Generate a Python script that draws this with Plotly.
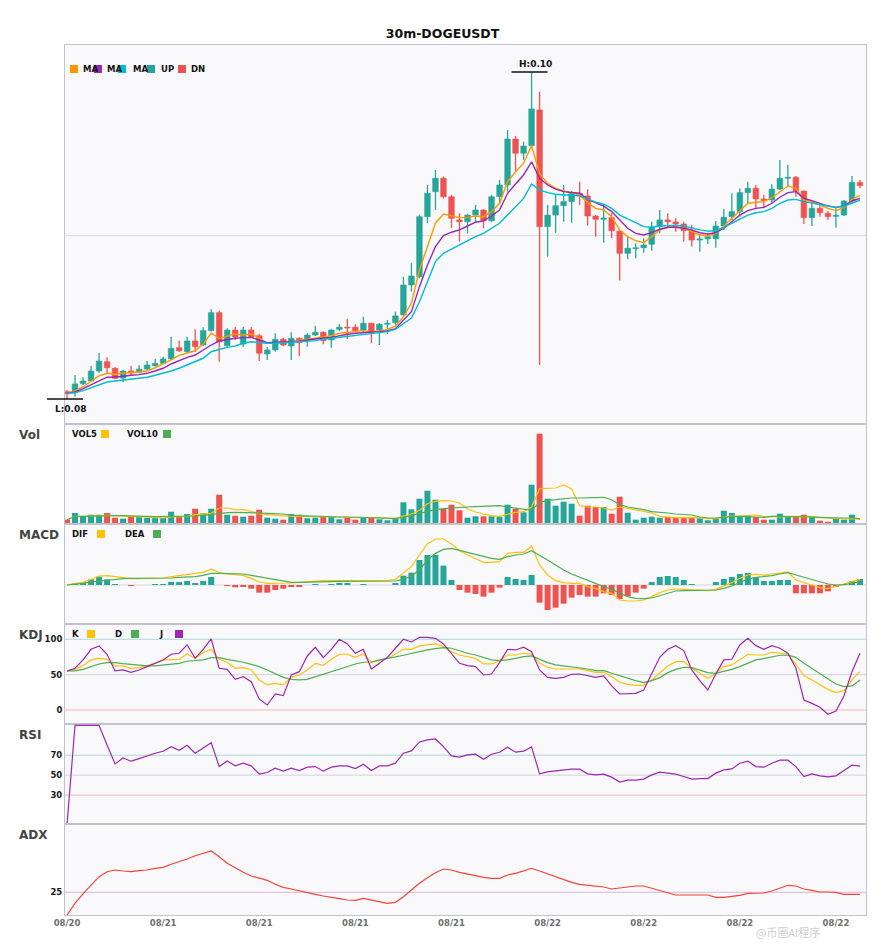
import plotly.graph_objects as go
from plotly.subplots import make_subplots

title = "30m-DOGEUSDT"
tick_pos = [0, 12, 24, 36, 48, 60, 72, 84, 96]
tick_text = ["08/20", "08/21", "08/21", "08/21", "08/21", "08/22", "08/22", "08/22", "08/22"]

opens = [0.08045, 0.08039, 0.08094, 0.08110, 0.08171, 0.08228, 0.08188, 0.08128, 0.08171, 0.08163,
         0.08183, 0.08204, 0.08218, 0.08245, 0.08314, 0.08289, 0.08355, 0.08330, 0.08418, 0.08528,
         0.08326, 0.08422, 0.08336, 0.08422, 0.08387, 0.08275, 0.08300, 0.08365, 0.08324, 0.08371,
         0.08357, 0.08391, 0.08408, 0.08361, 0.08426, 0.08439, 0.08439, 0.08422, 0.08463, 0.08422,
         0.08457, 0.08467, 0.08514, 0.08697, 0.08748, 0.09115, 0.09268, 0.09350, 0.09237, 0.09095,
         0.09084, 0.09125, 0.09156, 0.09090, 0.09237, 0.09309, 0.09590, 0.09503, 0.09549, 0.09768,
         0.09054, 0.09125, 0.09182, 0.09207, 0.09258, 0.09242, 0.09119, 0.09099, 0.09109, 0.09027,
         0.08891, 0.08919, 0.08925, 0.08946, 0.09054, 0.09095, 0.09083, 0.09070, 0.09027, 0.08972,
         0.08979, 0.08980, 0.09058, 0.09115, 0.09146, 0.09262, 0.09289, 0.09223, 0.09217, 0.09284,
         0.09350, 0.09356, 0.09272, 0.09109, 0.09166, 0.09136, 0.09117, 0.09125, 0.09211, 0.09325]
highs = [0.08055, 0.08147, 0.08133, 0.08202, 0.08283, 0.08255, 0.08194, 0.08177, 0.08202, 0.08206,
         0.08232, 0.08246, 0.08259, 0.08381, 0.08357, 0.08381, 0.08426, 0.08439, 0.08549, 0.08540,
         0.08432, 0.08440, 0.08440, 0.08440, 0.08398, 0.08318, 0.08402, 0.08373, 0.08408, 0.08377,
         0.08402, 0.08446, 0.08412, 0.08426, 0.08459, 0.08489, 0.08457, 0.08503, 0.08467, 0.08463,
         0.08483, 0.08534, 0.08748, 0.08830, 0.09125, 0.09309, 0.09401, 0.09360, 0.09248, 0.09136,
         0.09131, 0.09187, 0.09160, 0.09248, 0.09339, 0.09645, 0.09609, 0.09574, 0.10000, 0.09879,
         0.09187, 0.09248, 0.09309, 0.09272, 0.09329, 0.09283, 0.09125, 0.09187, 0.09136, 0.09034,
         0.08993, 0.08952, 0.08983, 0.09084, 0.09156, 0.09136, 0.09105, 0.09084, 0.09064, 0.09007,
         0.09017, 0.09089, 0.09162, 0.09258, 0.09289, 0.09329, 0.09309, 0.09248, 0.09313, 0.09462,
         0.09431, 0.09364, 0.09274, 0.09207, 0.09187, 0.09150, 0.09172, 0.09217, 0.09364, 0.09339]
lows = [0.08000, 0.08014, 0.08086, 0.08104, 0.08161, 0.08157, 0.08120, 0.08104, 0.08147, 0.08157,
        0.08177, 0.08198, 0.08214, 0.08239, 0.08287, 0.08280, 0.08287, 0.08324, 0.08412, 0.08228,
        0.08320, 0.08361, 0.08318, 0.08373, 0.08234, 0.08239, 0.08289, 0.08324, 0.08239, 0.08263,
        0.08320, 0.08385, 0.08335, 0.08314, 0.08418, 0.08365, 0.08408, 0.08402, 0.08341, 0.08330,
        0.08398, 0.08453, 0.08503, 0.08656, 0.08738, 0.09075, 0.09156, 0.09227, 0.09044, 0.08962,
        0.09013, 0.09084, 0.09044, 0.09084, 0.09193, 0.09268, 0.09390, 0.09462, 0.09543, 0.08208,
        0.08870, 0.09017, 0.09084, 0.09078, 0.09187, 0.09060, 0.08993, 0.08956, 0.08983, 0.08724,
        0.08854, 0.08861, 0.08895, 0.08907, 0.09013, 0.09044, 0.09023, 0.08962, 0.08932, 0.08901,
        0.08948, 0.08925, 0.09034, 0.09095, 0.09115, 0.09197, 0.09160, 0.09166, 0.09197, 0.09278,
        0.09298, 0.09237, 0.09070, 0.09058, 0.09115, 0.09095, 0.09048, 0.09119, 0.09201, 0.09289]
closes = [0.08032, 0.08092, 0.08110, 0.08171, 0.08232, 0.08191, 0.08127, 0.08171, 0.08159, 0.08183,
          0.08208, 0.08218, 0.08245, 0.08310, 0.08295, 0.08355, 0.08320, 0.08418, 0.08528, 0.08349,
          0.08422, 0.08379, 0.08422, 0.08379, 0.08280, 0.08300, 0.08365, 0.08330, 0.08371, 0.08344,
          0.08391, 0.08408, 0.08357, 0.08422, 0.08439, 0.08434, 0.08418, 0.08463, 0.08408, 0.08457,
          0.08463, 0.08508, 0.08697, 0.08752, 0.09115, 0.09258, 0.09350, 0.09237, 0.09105, 0.09084,
          0.09125, 0.09156, 0.09090, 0.09237, 0.09309, 0.09590, 0.09503, 0.09547, 0.09774, 0.09054,
          0.09125, 0.09182, 0.09207, 0.09258, 0.09242, 0.09119, 0.09099, 0.09107, 0.09029, 0.08891,
          0.08922, 0.08925, 0.08942, 0.09050, 0.09095, 0.09084, 0.09070, 0.09029, 0.08972, 0.08979,
          0.08993, 0.09058, 0.09111, 0.09146, 0.09262, 0.09289, 0.09223, 0.09213, 0.09284, 0.09350,
          0.09356, 0.09272, 0.09109, 0.09166, 0.09139, 0.09115, 0.09124, 0.09211, 0.09325, 0.09305]

ma5 = [0.08035, 0.08049, 0.08075, 0.08106, 0.08141, 0.08157, 0.08151, 0.08157, 0.08161, 0.08165,
       0.08171, 0.08191, 0.08214, 0.08239, 0.08267, 0.08283, 0.08295, 0.08336, 0.08402, 0.08371,
       0.08385, 0.08398, 0.08391, 0.08398, 0.08373, 0.08341, 0.08344, 0.08350, 0.08350, 0.08357,
       0.08365, 0.08375, 0.08381, 0.08387, 0.08402, 0.08408, 0.08412, 0.08418, 0.08412, 0.08416,
       0.08426, 0.08446, 0.08503, 0.08587, 0.08789, 0.08932, 0.09075, 0.09131, 0.09119, 0.09109,
       0.09111, 0.09119, 0.09115, 0.09146, 0.09197, 0.09329, 0.09390, 0.09442, 0.09549, 0.09380,
       0.09319, 0.09289, 0.09272, 0.09262, 0.09248, 0.09201, 0.09166, 0.09156, 0.09115, 0.09034,
       0.08993, 0.08968, 0.08956, 0.08993, 0.09034, 0.09050, 0.09054, 0.09044, 0.09023, 0.09003,
       0.08997, 0.09013, 0.09058, 0.09105, 0.09156, 0.09197, 0.09203, 0.09207, 0.09231, 0.09268,
       0.09303, 0.09289, 0.09217, 0.09207, 0.09187, 0.09166, 0.09152, 0.09172, 0.09221, 0.09246]
ma10 = [0.08035, 0.08043, 0.08063, 0.08086, 0.08112, 0.08133, 0.08133, 0.08141, 0.08145, 0.08149,
        0.08157, 0.08171, 0.08188, 0.08214, 0.08234, 0.08255, 0.08269, 0.08300, 0.08330, 0.08355,
        0.08365, 0.08371, 0.08375, 0.08377, 0.08361, 0.08344, 0.08347, 0.08350, 0.08350, 0.08353,
        0.08361, 0.08369, 0.08373, 0.08377, 0.08387, 0.08396, 0.08402, 0.08408, 0.08410, 0.08412,
        0.08416, 0.08430, 0.08480, 0.08534, 0.08687, 0.08820, 0.08932, 0.08999, 0.09020, 0.09034,
        0.09058, 0.09081, 0.09089, 0.09119, 0.09156, 0.09258, 0.09315, 0.09370, 0.09451, 0.09350,
        0.09309, 0.09283, 0.09268, 0.09262, 0.09258, 0.09221, 0.09202, 0.09180, 0.09146, 0.09095,
        0.09044, 0.09013, 0.09003, 0.09017, 0.09038, 0.09050, 0.09050, 0.09044, 0.09034, 0.09017,
        0.09009, 0.09017, 0.09044, 0.09084, 0.09125, 0.09152, 0.09166, 0.09172, 0.09197, 0.09234,
        0.09262, 0.09268, 0.09227, 0.09213, 0.09197, 0.09180, 0.09172, 0.09180, 0.09211, 0.09227]
ma20 = [0.08035, 0.08039, 0.08051, 0.08069, 0.08090, 0.08104, 0.08110, 0.08116, 0.08120, 0.08124,
        0.08133, 0.08145, 0.08157, 0.08171, 0.08188, 0.08208, 0.08228, 0.08249, 0.08289, 0.08304,
        0.08316, 0.08324, 0.08341, 0.08350, 0.08344, 0.08341, 0.08341, 0.08344, 0.08344, 0.08347,
        0.08350, 0.08357, 0.08365, 0.08371, 0.08377, 0.08385, 0.08391, 0.08398, 0.08402, 0.08406,
        0.08412, 0.08426, 0.08459, 0.08495, 0.08595, 0.08717, 0.08840, 0.08891, 0.08917, 0.08942,
        0.08972, 0.08993, 0.09013, 0.09044, 0.09075, 0.09125, 0.09176, 0.09227, 0.09315, 0.09278,
        0.09262, 0.09252, 0.09248, 0.09248, 0.09242, 0.09221, 0.09204, 0.09191, 0.09166, 0.09125,
        0.09099, 0.09078, 0.09054, 0.09050, 0.09058, 0.09062, 0.09062, 0.09058, 0.09044, 0.09034,
        0.09027, 0.09029, 0.09050, 0.09075, 0.09105, 0.09125, 0.09139, 0.09146, 0.09166, 0.09197,
        0.09217, 0.09221, 0.09207, 0.09197, 0.09191, 0.09180, 0.09172, 0.09180, 0.09197, 0.09217]

# volume in millions
volumes = [4.3, 11, 7.7, 9.3, 9.3, 11, 6.3, 5.3, 7, 7,
           6, 6, 6, 12.3, 7, 10, 15.3, 10.7, 15.3, 29.3,
           9.3, 8.3, 7.3, 8.3, 14.3, 6.3, 5.3, 4.3, 10, 9.3,
           5.7, 6.3, 7.7, 7.3, 4.7, 6.3, 4.3, 7, 6.3, 4.7,
           3.7, 5.3, 21.7, 14.7, 25.3, 33.3, 24.3, 15, 19.3, 13.7,
           6.3, 7.7, 7.7, 7.7, 7, 19.3, 15, 11.7, 39.3, 90.3,
           25.3, 18.3, 22.3, 20.3, 8.3, 18.3, 17, 17, 10.3, 27.3,
           11.3, 4.3, 6.3, 7.3, 6.3, 7, 6.3, 7, 6.3, 5.7,
           3.7, 5.7, 13.3, 11, 7.3, 8.7, 7, 4.3, 4.3, 10.3,
           7.7, 7, 9.3, 7.7, 3.3, 2.3, 5, 4.3, 9.3, 0.7]
vol5 = [4.3, 7.7, 7.7, 7.7, 8.3, 8.7, 8.3, 7.7, 7, 7,
        6.3, 6, 6, 7, 7, 7.7, 9.3, 10, 10.7, 16,
        16, 14.3, 14.3, 12.7, 10, 9.3, 8.7, 7.7, 7.7, 7.7,
        7.7, 7.7, 7.7, 7, 7, 6.7, 6.7, 6.7, 6.7, 6.3,
        5.7, 5.3, 8, 10, 13.7, 20.3, 22.7, 23.3, 23, 21,
        15, 12, 10, 8.3, 7.7, 9.7, 11.7, 12.3, 17, 35.3,
        36, 36, 39, 35, 18.3, 17, 17, 16, 14, 17,
        15.7, 14.3, 12.7, 11, 7.7, 6.7, 6.3, 6.7, 6.7, 6.3,
        5.3, 5.3, 7, 8, 8, 8.7, 9, 7.7, 7, 7,
        7.3, 7.7, 7.3, 7.7, 6.3, 5.7, 5, 5, 5.3, 4.7]
vol10 = [4.3, 7.7, 7.7, 8, 8, 8.3, 8.3, 8.3, 8.3, 8,
         7.7, 7.3, 7.3, 7.3, 7.3, 7.7, 8, 8.7, 9.7, 11,
         11.3, 11.7, 11.7, 11.7, 11, 10.7, 10.3, 10, 8.7, 8.3,
         8, 7.7, 7.3, 7.3, 7, 7, 6.7, 6.7, 6.3, 6.3,
         6, 5.7, 6.7, 8.7, 11, 13, 14.3, 15.3, 16, 17,
         17, 17.3, 17.7, 17.7, 18.3, 17, 16, 15, 13.7, 21.7,
         23.7, 24.3, 25.3, 26, 26, 26, 26, 26.7, 24.3, 19.3,
         17, 15.7, 14.3, 12.3, 12, 11, 10, 9.3, 9, 7,
         6, 6, 7, 7.3, 7.7, 7.7, 7, 6.7, 7.7, 7.7,
         7.7, 7.7, 7.7, 7, 6.7, 6.3, 6, 6, 6, 5.3]

# MACD values in units of 1e-4
dif = [0, 0.83, 1.17, 3.0, 4.5, 4.67, 4.17, 3.5, 3.17, 3.17,
       3.17, 3.33, 3.5, 4.17, 4.67, 5.0, 5.5, 6.33, 8.0, 6.17,
       5.5, 5.17, 4.83, 3.33, 1.5, 0.83, 0.83, 0.83, 1.0, 1.33,
       1.67, 2.0, 2.17, 2.17, 2.17, 2.17, 2.17, 2.17, 2.0, 2.0,
       2.17, 2.83, 5.83, 9.17, 15.0, 20.5, 23.0, 23.0, 20.5, 17.17,
       15.0, 13.33, 11.33, 11.33, 11.67, 15.83, 16.33, 16.33, 19.5, 10.0,
       5.0, 2.17, 1.17, 0.83, 0.83, -0.83, -1.67, -3.33, -4.17, -7.5,
       -8.0, -8.0, -7.5, -5.83, -3.83, -2.5, -2.0, -2.17, -2.5, -2.83,
       -2.83, -2.17, -0.5, 1.17, 3.33, 5.0, 5.33, 5.0, 5.5, 6.17,
       6.5, 2.5, 1.17, -0.17, -1.33, -1.83, -0.83, 0.5, 1.83, 2.83]
dea = [0, 0.33, 0.83, 1.5, 2.0, 2.5, 3.0, 3.17, 3.33, 3.33,
       3.17, 3.33, 3.33, 3.5, 3.83, 4.0, 4.17, 4.83, 5.83, 5.83,
       5.83, 5.67, 5.5, 4.83, 4.17, 3.5, 2.83, 2.17, 1.33, 1.33,
       1.33, 1.5, 1.67, 1.67, 1.83, 1.83, 1.83, 1.83, 1.83, 1.83,
       1.83, 2.0, 2.83, 4.5, 7.5, 12.5, 15.83, 17.83, 18.33, 17.5,
       16.33, 15.33, 14.17, 13.33, 12.83, 14.17, 15.0, 15.5, 17.17, 15.0,
       12.5, 10.0, 7.5, 5.5, 3.83, 2.5, 0.83, -0.83, -2.17, -4.17,
       -5.83, -6.67, -6.83, -6.5, -5.33, -3.83, -3.0, -2.83, -2.67, -2.67,
       -2.67, -2.5, -1.67, -0.5, 1.33, 3.0, 3.83, 4.17, 4.67, 5.5,
       6.17, 5.0, 3.83, 2.83, 1.67, 0.5, 0, 0.17, 0.83, 1.67]
macd_hist = [0, 0.67, 1.33, 2.83, 4.17, 2.83, 0.5, 0, -0.17, 0,
             0, 0.5, 0.5, 1.5, 1.5, 2.0, 1.0, 2.0, 4.0, 0,
             -0.5, -1.17, -0.83, -1.83, -3.83, -3.83, -2.5, -1.83, -0.83, -0.83,
             0, 0.5, 0, 0.5, 1.0, 1.0, 0, 0.5, 0, 0,
             0, 0.83, 4.67, 6.17, 12.5, 15.0, 15.0, 9.67, 2.5, -2.5,
             -3.83, -4.5, -5.83, -3.83, -1.33, 4.0, 3.0, 2.5, 5.0, -8.83,
             -12.5, -11.33, -9.33, -6.33, -5.0, -5.83, -5.83, -4.17, -5.0, -7.0,
             -5.5, -3.83, -1.83, 1.5, 4.0, 4.5, 4.0, 2.5, 0.5, 0,
             0, 1.5, 3.0, 4.0, 5.5, 6.0, 4.0, 2.0, 2.0, 2.5,
             2.5, -4.17, -4.17, -4.17, -4.17, -3.17, -0.83, 0.5, 2.0, 3.0]

k_vals = [55.2, 57.5, 62.7, 70.8, 73.1, 71.7, 62.3, 62.3, 59.0, 59.9,
          62.7, 66.0, 70.8, 71.7, 71.7, 79.2, 73.1, 81.1, 85.8, 71.7,
          67.5, 59.0, 59.9, 56.6, 42.5, 35.4, 37.7, 35.4, 46.2, 49.5,
          56.6, 66.0, 63.2, 71.7, 78.8, 78.8, 74.5, 79.2, 67.0, 69.8,
          73.1, 79.2, 85.8, 85.8, 90.6, 92.0, 93.4, 89.6, 82.5, 77.8,
          75.5, 73.1, 65.1, 65.1, 69.8, 77.8, 77.8, 80.2, 79.2, 66.0,
          60.4, 58.0, 58.0, 58.0, 58.0, 55.7, 53.3, 53.3, 47.2, 39.2,
          36.3, 34.9, 34.9, 42.5, 51.9, 62.3, 68.4, 68.4, 59.0, 51.9,
          44.8, 51.9, 61.3, 63.7, 71.7, 78.8, 77.8, 77.8, 81.6, 80.2,
          79.2, 64.6, 48.6, 42.5, 35.4, 29.2, 24.5, 27.4, 42.5, 54.2]
d_vals = [55.2, 55.2, 57.5, 61.3, 65.1, 67.0, 67.0, 65.6, 64.2, 62.7,
          62.3, 62.3, 63.7, 64.6, 66.0, 68.9, 69.8, 70.8, 74.1, 74.1,
          71.7, 69.8, 67.5, 64.6, 61.3, 56.6, 50.9, 46.2, 43.4, 42.5,
          43.4, 47.2, 50.5, 54.2, 58.5, 61.3, 65.1, 67.5, 67.9, 70.8,
          72.6, 75.0, 77.4, 80.2, 82.5, 84.9, 86.8, 88.2, 87.3, 83.5,
          80.2, 77.8, 74.5, 70.8, 69.8, 70.8, 73.1, 75.5, 76.4, 71.7,
          67.0, 63.7, 62.3, 61.3, 59.9, 58.0, 55.7, 55.7, 51.9, 48.1,
          44.8, 41.5, 38.7, 41.5, 45.8, 52.8, 57.5, 60.4, 59.9, 56.6,
          52.8, 51.9, 54.2, 57.5, 61.3, 66.0, 70.8, 72.6, 75.5, 77.4,
          77.8, 74.5, 66.0, 59.0, 51.9, 44.8, 36.8, 33.0, 34.0, 42.5]
j_vals = [55.2, 59.0, 70.8, 85.8, 90.6, 78.8, 55.2, 56.6, 53.3, 56.6,
          61.3, 66.0, 70.8, 78.8, 80.2, 92.0, 73.1, 85.8, 100.5, 59.0,
          57.5, 43.4, 47.2, 40.1, 15.6, 7.1, 22.6, 20.3, 49.5, 54.2,
          76.4, 88.7, 74.1, 85.8, 100.0, 93.4, 80.2, 85.8, 58.0, 66.0,
          74.5, 87.3, 100.0, 96.2, 102.8, 102.8, 101.4, 93.4, 80.2, 66.0,
          62.7, 61.3, 49.5, 50.9, 67.0, 85.8, 84.9, 88.7, 82.5, 56.6,
          46.2, 44.8, 46.2, 50.5, 50.9, 48.1, 46.2, 48.1, 34.0, 22.6,
          22.6, 23.6, 28.3, 51.9, 74.5, 85.8, 91.0, 84.0, 56.6, 41.5,
          28.3, 50.9, 70.8, 71.7, 92.0, 101.4, 91.0, 85.8, 91.0, 87.3,
          80.2, 59.0, 14.2, 9.4, 3.8, -6.1, -1.4, 19.8, 54.2, 80.2]
rsi = [0, 100, 100, 100, 100, 80.3, 61.3, 67.3, 64, 66.6,
       69.6, 72, 74, 78.6, 75, 80, 72, 77.3, 82.6, 58.6,
       64.3, 59.3, 62, 59.3, 51, 52.6, 57, 54, 57, 54.6,
       58, 58.6, 54, 58, 59.3, 59.3, 56.6, 61, 54.6, 59.3,
       59.3, 62, 72, 74.3, 83.3, 85.3, 86.3, 78.6, 69.3, 68,
       70.3, 71, 66, 71, 73, 78, 73, 74, 78.3, 51.3,
       53.3, 54.3, 55.3, 56, 56, 51.3, 50.3, 51, 48, 43,
       45, 45, 46, 50.3, 53, 52, 51, 48.6, 46, 46.6,
       46.6, 52, 55.3, 56.3, 62, 64, 58.6, 58, 62, 65,
       65, 58.6, 48.6, 51.3, 49.3, 48.3, 49.3, 54.6, 60, 59]
adx = [13.65, 19.5, 24.2, 28.65, 32.8, 35.3, 36.15, 35.65, 35.3, 35.8,
       36.15, 37, 37.5, 39, 40.3, 41.65, 43.3, 44.3, 45.65, 42.8,
       39.5, 37.3, 35, 33.15, 32, 31, 29, 27.5, 26.65, 25.65,
       24.65, 24, 23.15, 22.65, 21.8, 21.15, 21, 22, 21.15, 20,
       19.5, 20, 22.8, 26.15, 29.5, 32.3, 34.8, 36.65, 36.15, 35,
       34, 33.3, 32.5, 32, 32, 33.65, 34.5, 35.65, 37, 35.65,
       34.15, 32.8, 31.15, 30, 29, 28.65, 28.15, 27.65, 26.65, 27.15,
       27.65, 28.15, 28.15, 27, 25.65, 24.5, 23.65, 23.65, 23.65, 23.65,
       23.65, 22.5, 22.5, 23, 23.5, 24.5, 24.5, 24.65, 25.65, 27,
       28.5, 28.15, 26.65, 26, 25.15, 25.15, 25, 24, 24, 24]

UP = "#26A69A"
DN = "#EF5350"
ORANGE = "#FF9800"
PURPLE = "#9C27B0"
CYAN = "#00BCD4"
YELLOW = "#FFC107"
GREEN = "#4CAF50"
RED = "#F44336"
AXIS = "#C2C2CA"
FONT = "DejaVu Sans"

# the page has an 8px body margin, positions below are page pixels
PAGE_OFF = 8
W, H = 869, 934
ML, MR, MT, MB = 57, 11, 37, 27
X_RANGE = [-0.25, 99.75]


def px_x(px):
    return (px - PAGE_OFF - ML) / (W - ML - MR)


def px_y(py):
    return (H - MB - (py - PAGE_OFF)) / (H - MT - MB)


x = list(range(len(closes)))
candle_colors = [UP if c >= o else DN for o, c in zip(opens, closes)]
hist_colors = [UP if v >= 0 else DN for v in macd_hist]

fig = make_subplots(rows=6, cols=1, shared_xaxes=True, vertical_spacing=0,
                    row_heights=[379, 100, 100, 100, 100, 91])

# candles: wicks as lines, bodies as floating bars
for color in (UP, DN):
    wx, wy = [], []
    for i in x:
        if candle_colors[i] == color:
            wx += [i, i, None]
            wy += [lows[i], highs[i], None]
    fig.add_trace(go.Scatter(x=wx, y=wy, mode="lines", line=dict(color=color, width=1.3)),
                  row=1, col=1)
fig.add_trace(go.Bar(x=x, y=[abs(c - o) for o, c in zip(opens, closes)],
                     base=[min(o, c) for o, c in zip(opens, closes)], width=0.7,
                     marker=dict(color=candle_colors, line=dict(color=candle_colors, width=0.6))),
              row=1, col=1)
for series, color in [(ma5, ORANGE), (ma10, PURPLE), (ma20, CYAN)]:
    fig.add_trace(go.Scatter(x=x, y=series, mode="lines",
                             line=dict(color=color, width=1.4)), row=1, col=1)

fig.add_trace(go.Bar(x=x, y=volumes, marker=dict(color=candle_colors, line=dict(width=0))), row=2, col=1)
fig.add_trace(go.Scatter(x=x, y=vol5, mode="lines", line=dict(color=YELLOW, width=1.2)), row=2, col=1)
fig.add_trace(go.Scatter(x=x, y=vol10, mode="lines", line=dict(color=GREEN, width=1.2)), row=2, col=1)

fig.add_trace(go.Bar(x=x, y=macd_hist, marker=dict(color=hist_colors, line=dict(width=0))), row=3, col=1)
fig.add_trace(go.Scatter(x=x, y=dif, mode="lines", line=dict(color=YELLOW, width=1.2)), row=3, col=1)
fig.add_trace(go.Scatter(x=x, y=dea, mode="lines", line=dict(color=GREEN, width=1.2)), row=3, col=1)

fig.add_trace(go.Scatter(x=x, y=k_vals, mode="lines", line=dict(color=YELLOW, width=1.2)), row=4, col=1)
fig.add_trace(go.Scatter(x=x, y=d_vals, mode="lines", line=dict(color=GREEN, width=1.2)), row=4, col=1)
fig.add_trace(go.Scatter(x=x, y=j_vals, mode="lines", line=dict(color=PURPLE, width=1.2)), row=4, col=1)

fig.add_trace(go.Scatter(x=x, y=rsi, mode="lines", line=dict(color=PURPLE, width=1.2)), row=5, col=1)
fig.add_trace(go.Scatter(x=x, y=adx, mode="lines", line=dict(color=RED, width=1.2)), row=6, col=1)

# reference lines
ref_lines = [
    (1, 0.09, "#DCDCE2"),
    (3, 0, "#D6D6DC"),
    (4, 100, "#A9DAD6"), (4, 50, "#D3D3D9"), (4, 0, "#F6B7B7"),
    (5, 70, "#A9DAD6"), (5, 50, "#D3D3D9"), (5, 30, "#F6B7B7"),
    (6, 25, "#D9B6E0"),
]
for row, yv, color in ref_lines:
    fig.add_hline(y=yv, line=dict(color=color, width=1), layer="below", row=row, col=1)

tick_font = dict(family=FONT, size=8.5, color="#1A1A1A", weight="bold")
fig.update_xaxes(range=X_RANGE, showgrid=False, zeroline=False, showline=True, mirror=True,
                 linecolor=AXIS, linewidth=1, showticklabels=False, ticks="",
                 rangeslider_visible=False)
fig.update_xaxes(showticklabels=True, tickvals=tick_pos, ticktext=tick_text,
                 tickfont=dict(family=FONT, size=8.5, color="#6E6E6E", weight="bold"),
                 row=6, col=1)
fig.update_yaxes(showgrid=False, zeroline=False, showline=True, mirror=True,
                 linecolor=AXIS, linewidth=1, showticklabels=False, ticks="",
                 tickfont=tick_font)
fig.update_yaxes(range=[0.07847, 0.10165], row=1, col=1)
fig.update_yaxes(range=[0, 100], row=2, col=1)
fig.update_yaxes(range=[-19.5, 30.5], row=3, col=1)
fig.update_yaxes(range=[-19.8, 121.6], tickvals=[0, 50, 100], showticklabels=True, row=4, col=1)
fig.update_yaxes(range=[1, 101.3], tickvals=[30, 50, 70], showticklabels=True, row=5, col=1)
fig.update_yaxes(range=[13.65, 59.15], tickvals=[25], showticklabels=True, row=6, col=1)

annotations = []
shapes = []


def add_text(px, py, text, size, color="#111111", anchor="left"):
    annotations.append(dict(xref="paper", yref="paper", x=px_x(px), y=px_y(py), text=text,
                            showarrow=False, xanchor=anchor, yanchor="middle",
                            font=dict(family=FONT, size=size, color=color, weight="bold")))


def add_square(px, py, color, size=8):
    shapes.append(dict(type="rect", xref="paper", yref="paper",
                       x0=px_x(px), x1=px_x(px + size), y0=px_y(py + size / 2), y1=px_y(py - size / 2),
                       fillcolor=color, line=dict(width=0), layer="above"))


# panel names
for name, py in [("Vol", 435), ("MACD", 535), ("KDJ", 635), ("RSI", 735), ("ADX", 835)]:
    add_text(17, py, name, 12, "#444444")

# main legend
main_legend = [("MA", ORANGE, 70, 81), ("MA", PURPLE, 94, 105), ("MA", CYAN, 118, 131),
               ("UP", UP, 147, 159), ("DN", DN, 178, 189)]
for label, color, sq_x, tx in main_legend:
    add_text(tx, 69, label, 8.5)
    add_square(sq_x, 69, color)

# indicator legends (text then square)
sub_legends = [
    (434, [("VOL5", 70, YELLOW, 101), ("VOL10", 125, GREEN, 163)]),
    (534, [("DIF", 70, YELLOW, 97), ("DEA", 123, GREEN, 153)]),
    (634, [("K", 70, YELLOW, 87), ("D", 113, GREEN, 131), ("J", 157, PURPLE, 175)]),
]
for py, items in sub_legends:
    for label, tx, color, sq_x in items:
        add_text(tx, py, label, 8.5)
        add_square(sq_x, py, color)

# high / low markers
hi_idx = max(range(len(highs)), key=lambda i: highs[i])
lo_idx = min(range(len(lows)), key=lambda i: lows[i])
unit = 1 / (X_RANGE[1] - X_RANGE[0])
for idx, yv, label, anchor, shift in [(hi_idx, highs[hi_idx], "H:%.2f" % highs[hi_idx], "bottom", 1),
                                      (lo_idx, lows[lo_idx], "L:%.2f" % lows[lo_idx], "top", -3)]:
    shapes.append(dict(type="line", xref="paper", yref="y",
                       x0=(idx - 2.5 - X_RANGE[0]) * unit, x1=(idx + 2 - X_RANGE[0]) * unit,
                       y0=yv, y1=yv, line=dict(color="#111111", width=1.5)))
    annotations.append(dict(xref="x", yref="y", x=idx + 0.55, y=yv, text=label, showarrow=False,
                            xanchor="center", yanchor=anchor, yshift=shift,
                            font=dict(family=FONT, size=9, color="#111111", weight="bold")))

# watermark, placed between the last two date labels
annotations.append(dict(xref="paper", yref="paper", x=px_x(788), y=px_y(932), text="@币圈AI程序",
                        showarrow=False, xanchor="center", yanchor="middle",
                        font=dict(family="Noto Sans CJK SC", size=11, color="rgba(150,150,150,0.5)")))

fig.update_layout(
    width=W, height=H, autosize=False,
    margin=dict(l=ML, r=MR, t=MT, b=MB),
    paper_bgcolor="white", plot_bgcolor="#F9F9FB",
    showlegend=False, bargap=0.25,
    font=dict(family=FONT),
    title=dict(text=title, x=0.5, xanchor="center", y=1 - (34 - PAGE_OFF) / H, yanchor="middle",
               font=dict(family=FONT, size=12.5, color="#111111", weight="bold")),
    annotations=list(fig.layout.annotations) + annotations,
    shapes=list(fig.layout.shapes) + shapes,
    hovermode=False,
)

fig.write_html("out.html")
